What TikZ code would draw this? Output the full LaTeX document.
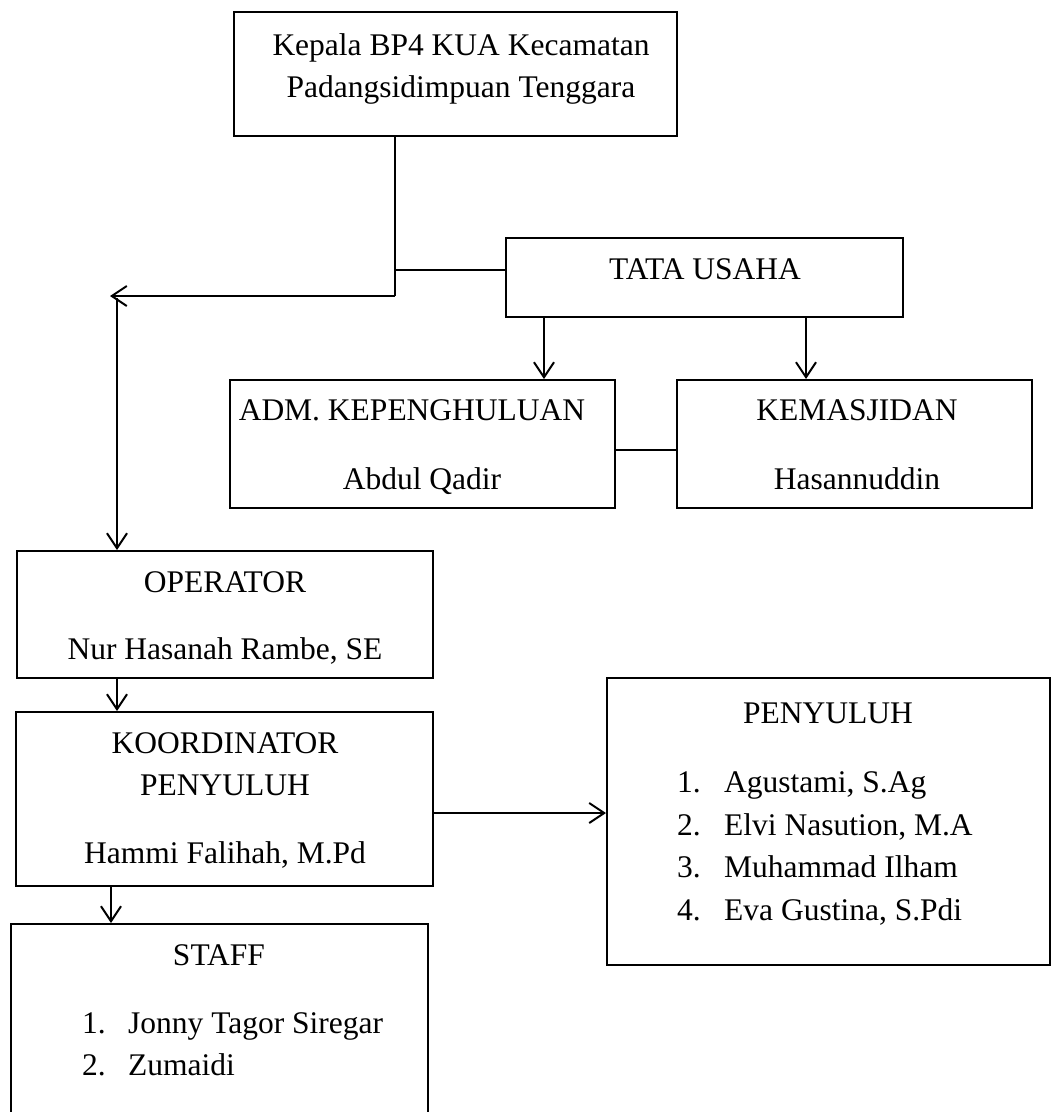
\documentclass[tikz,border=0pt]{standalone}
\usepackage{fontspec}
\setmainfont{Liberation Serif}
\usetikzlibrary{arrows.meta}
\begin{document}
\begin{tikzpicture}[x=1pt,y=-1pt,
  box/.style={draw,line width=2pt,inner sep=0pt},
  txt/.style={font=\fontsize{31.5}{36}\selectfont,inner sep=0pt,anchor=base},
  thin/.style={line width=1.2pt},
  arr/.style={line width=2pt,-{Straight Barb[length=15pt,width=20pt,line width=2pt]}}]
\useasboundingbox (0,0) rectangle (1055,1112);
% boxes
\node[box,minimum width=443pt,minimum height=124pt] (kepala) at (455.5,74) {};
\node[box,minimum width=397pt,minimum height=79pt] (tata) at (704.5,277.5) {};
\node[box,minimum width=385pt,minimum height=128pt] (adm) at (422.5,444) {};
\node[box,minimum width=355pt,minimum height=128pt] (masjid) at (854.5,444) {};
\node[box,minimum width=416pt,minimum height=127pt] (operator) at (225,614.5) {};
\node[box,minimum width=417pt,minimum height=174pt] (koord) at (224.5,799) {};
\node[box,minimum width=443pt,minimum height=287pt] (penyuluh) at (828.5,821.5) {};
\node[box,minimum width=417pt,minimum height=200pt] (staff) at (219.5,1024) {};
% texts
\node[txt] (t1) at (461,55) {Kepala BP4 KUA Kecamatan};
\node[txt] (t2) at (461,97) {Padangsidimpuan Tenggara};
\node[txt] (t3) at (705,279) {TATA USAHA};
\node[txt] (t4) at (412,420) {ADM. KEPENGHULUAN};
\node[txt] (t5) at (422,489) {Abdul Qadir};
\node[txt] (t6) at (857,420) {KEMASJIDAN};
\node[txt] (t7) at (857,489) {Hasannuddin};
\node[txt] (t8) at (225,592) {OPERATOR};
\node[txt] (t9) at (225,659) {Nur Hasanah Rambe, SE};
\node[txt] (t10) at (225,753) {KOORDINATOR};
\node[txt] (t11) at (225,795) {PENYULUH};
\node[txt] (t12) at (225,863) {Hammi Falihah, M.Pd};
\node[txt] (t13) at (828,723) {PENYULUH};
\node[txt,anchor=base west] (p1n) at (677,792) {1.};
\node[txt,anchor=base west] (p1) at (724,792) {Agustami, S.Ag};
\node[txt,anchor=base west] (p2n) at (677,835) {2.};
\node[txt,anchor=base west] (p2) at (724,835) {Elvi Nasution, M.A};
\node[txt,anchor=base west] (p3n) at (677,877) {3.};
\node[txt,anchor=base west] (p3) at (724,877) {Muhammad Ilham};
\node[txt,anchor=base west] (p4n) at (677,920) {4.};
\node[txt,anchor=base west] (p4) at (724,920) {Eva Gustina, S.Pdi};
\node[txt] (t14) at (219,965) {STAFF};
\node[txt,anchor=base west] (s1n) at (82,1033) {1.};
\node[txt,anchor=base west] (s1) at (128,1033) {Jonny Tagor Siregar};
\node[txt,anchor=base west] (s2n) at (82,1075) {2.};
\node[txt,anchor=base west] (s2) at (128,1075) {Zumaidi};
% coordinates
\coordinate (j1) at (395,270);
\coordinate (j2) at (395,296);
\coordinate (lt) at (110,296);
\coordinate (vt) at (117,298);
% connectors
\draw[thin] (kepala.south -| j1) -- (j2);
\draw[thin] (j1) -- (tata.west |- j1);
\draw[arr] (j2) -- (lt);
\draw[arr] (vt) -- (vt |- operator.north);
\draw[arr] (544,0 |- tata.south) -- (544,0 |- adm.north);
\draw[arr] (806,0 |- tata.south) -- (806,0 |- masjid.north);
\draw[thin] (adm.east |- 0,450) -- (masjid.west |- 0,450);
\draw[arr] (117,0 |- operator.south) -- (117,0 |- koord.north);
\draw[arr] (koord.east |- 0,813) -- (penyuluh.west |- 0,813);
\draw[arr] (111,0 |- koord.south) -- (111,0 |- staff.north);
\end{tikzpicture}
\end{document}
